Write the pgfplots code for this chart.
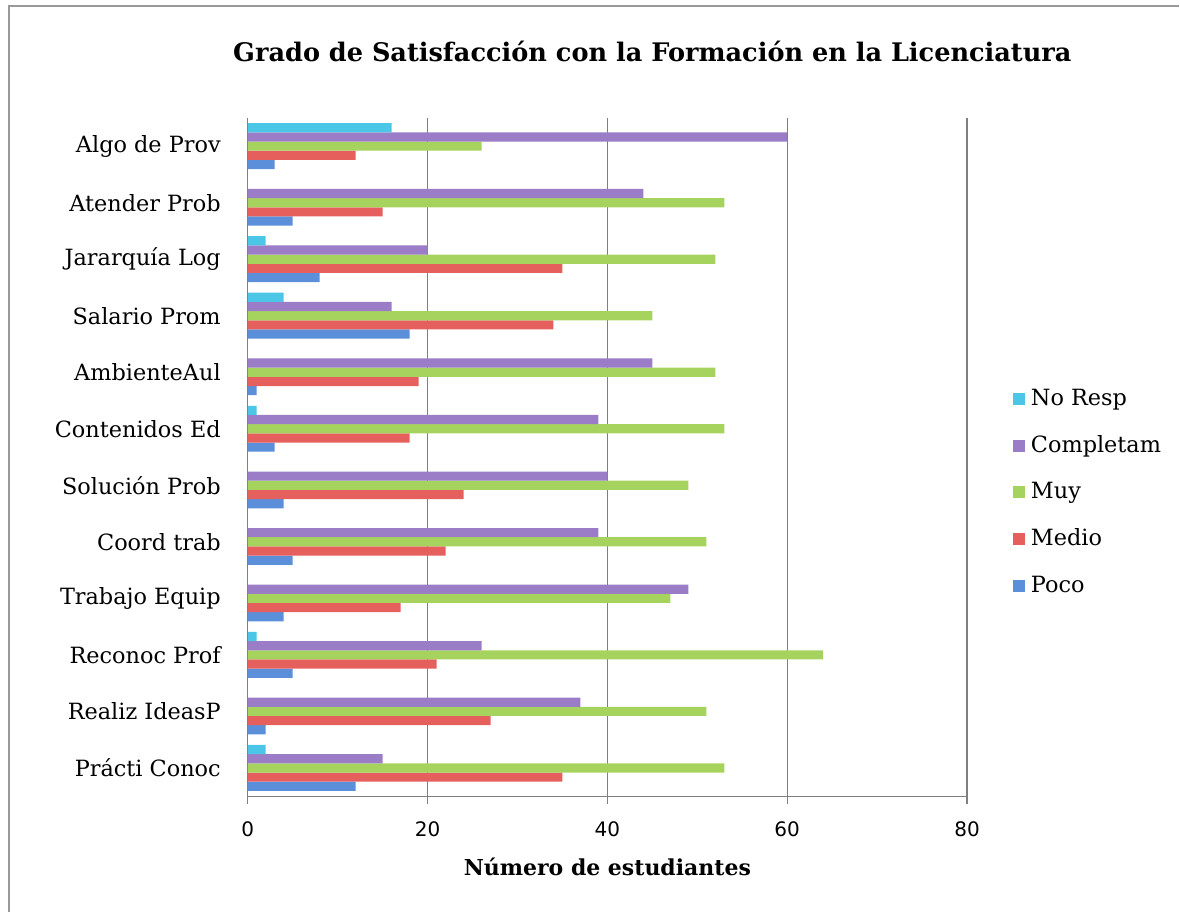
\documentclass[border=0pt]{standalone}
\usepackage{pgfplots}
\pgfplotsset{compat=1.18}
\usepackage{fontspec}
\setmainfont{DejaVu Serif}
\newfontfamily\numfont{DejaVu Sans}
\definecolor{cNR}{HTML}{4CC6E6}
\definecolor{cCO}{HTML}{9A7DC6}
\definecolor{cMU}{HTML}{A6D35E}
\definecolor{cME}{HTML}{E55F5D}
\definecolor{cPO}{HTML}{5B8FD9}
\definecolor{gridc}{HTML}{7F7F7F}
\begin{document}
\begin{tikzpicture}
\path (0,0) rectangle (590pt,456.5pt);
\draw[gray!80, line width=1.2pt] (4.5pt,0) -- (4.5pt,453.5pt) -- (590pt,453.5pt);
\node[font=\bfseries\fontsize{12.8}{15}\selectfont] at (326.5pt,430.5pt) {Grado de Satisfacción con la Formación en la Licenciatura};
\begin{axis}[
  at={(124pt,58pt)}, anchor=south west,
  scale only axis, width=360pt, height=339.5pt,
  xbar=0pt, bar width=4.6pt,
  xmin=0, xmax=80, ymin=-0.5, ymax=11.5,
  xtick={0,20,40,60,80},
  ytick={0,...,11},
  yticklabels={Prácti Conoc, Realiz IdeasP, Reconoc Prof, Trabajo Equip, Coord trab, Solución Prob, Contenidos Ed, AmbienteAul, Salario Prom, Jararquía Log, Atender Prob, Algo de Prov},
  axis x line*=bottom, axis y line*=left,
  axis line style={gridc, line width=0.6pt},
  x axis line style={-}, y axis line style={-},
  xmajorgrids, major grid style={gridc, line width=0.6pt},
  major tick length=4pt,
  xtick style={gridc, line width=0.6pt}, ytick style={draw=none},
  tick align=outside,
  /pgf/number format/assume math mode=true,
  x tick label style={font=\numfont\fontsize{10}{12}\selectfont, yshift=-5pt},
  y tick label style={font=\fontsize{11.2}{13}\selectfont, xshift=-6pt},
  xlabel={Número de estudiantes},
  xlabel style={font=\bfseries\fontsize{11}{14}\selectfont, yshift=-4pt},
  legend style={at={(1.055,0.448)}, anchor=west, draw=none, fill=none,
    font=\fontsize{11.2}{13}\selectfont, row sep=9.5pt,
    /tikz/every odd column/.append style={column sep=1pt}},
  legend cell align=left,
  reverse legend,
  legend image code/.code={\fill[#1] (0pt,-3pt) rectangle (6pt,3pt);},
  clip=false,
]
\addplot[draw=none, fill=cPO] coordinates {
(12,0) (2,1) (5,2) (4,3) (5,4) (4,5) (3,6) (1,7) (18,8) (8,9) (5,10) (3,11)};
\addplot[draw=none, fill=cME] coordinates {
(35,0) (27,1) (21,2) (17,3) (22,4) (24,5) (18,6) (19,7) (34,8) (35,9) (15,10) (12,11)};
\addplot[draw=none, fill=cMU] coordinates {
(53,0) (51,1) (64,2) (47,3) (51,4) (49,5) (53,6) (52,7) (45,8) (52,9) (53,10) (26,11)};
\addplot[draw=none, fill=cCO] coordinates {
(15,0) (37,1) (26,2) (49,3) (39,4) (40,5) (39,6) (45,7) (16,8) (20,9) (44,10) (60,11)};
\addplot[draw=none, fill=cNR] coordinates {
(2,0) (0,1) (1,2) (0,3) (0,4) (0,5) (1,6) (0,7) (4,8) (2,9) (0,10) (16,11)};
\legend{Poco, Medio, Muy, Completam, No Resp}
\end{axis}
\end{tikzpicture}
\end{document}
